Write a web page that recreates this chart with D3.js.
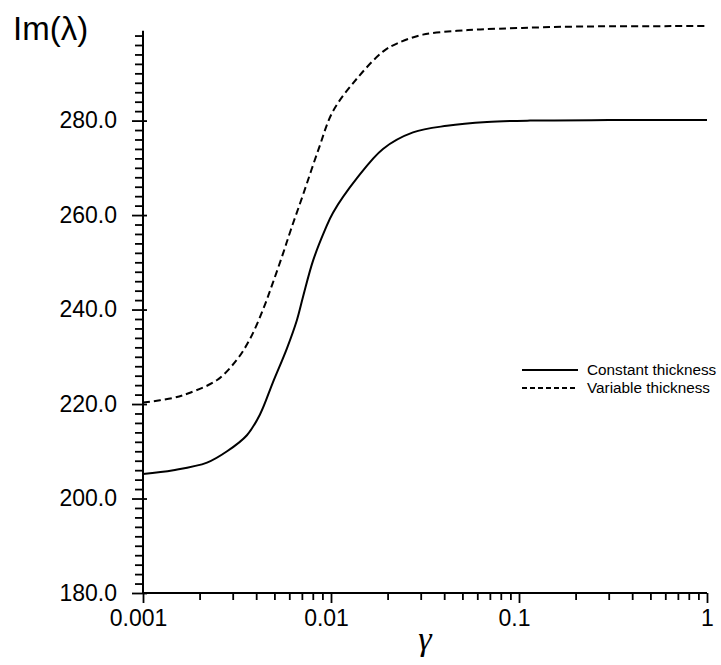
<!DOCTYPE html>
<html>
<head>
<meta charset="utf-8">
<script src="https://cdn.jsdelivr.net/npm/d3@7"></script>
<style>
  body { margin: 0; background: #fff; }
  text { font-family: "Liberation Sans", Arial, sans-serif; fill: #000; }
</style>
</head>
<body>
<div id="chart"></div>
<script>
// data
var gammaConst = [0.001, 0.00145, 0.00219, 0.0028, 0.00357, 0.00419, 0.00491, 0.00583,
    0.00659, 0.0071, 0.00802, 0.0093, 0.01025, 0.01374, 0.0189, 0.0273, 0.0414, 0.0676, 0.1145, 0.3, 1];
var imConst = [205.2, 206.0, 207.6, 210.0, 213.4, 217.8, 224.6, 231.8,
    237.8, 242.7, 250.3, 256.9, 260.5, 267.8, 274.0, 277.5, 278.9, 279.7, 280.0, 280.1, 280.1];
var gammaVar = [0.001, 0.00145, 0.00178, 0.00248, 0.00316, 0.00371, 0.00435, 0.00491, 0.00555, 0.00613,
    0.0071, 0.0086, 0.01025, 0.01374, 0.0189, 0.0224, 0.0308, 0.0468, 0.0621, 0.1, 0.2, 1];
var imVar = [220.3, 221.3, 222.4, 225.1, 229.4, 233.8, 240.0, 245.7, 251.8, 257.0,
    264.3, 274.0, 282.0, 288.9, 294.6, 296.3, 298.2, 299.0, 299.3, 299.6, 299.9, 300.0];
var seriesNames = ["Constant thickness", "Variable thickness"];
var xMajor = [0.001, 0.01, 0.1, 1];
var xLabels = ["0.001", "0.01", "0.1", "1"];
var yMajor = [180, 200, 220, 240, 260, 280];

var width = 721, height = 665;

var svg = d3.select("#chart")
    .append("svg")
    .attr("width", width)
    .attr("height", height);

var x = d3.scaleLog()
    .domain([0.001, 1])
    .range([143, 707]);

var y = d3.scaleLinear()
    .domain([180, 300])
    .range([593, 26.1]);

// minor ticks
var xMinor = [];
[0.001, 0.01, 0.1].forEach(function (d) {
    for (var k = 2; k <= 9; k++) xMinor.push(d * k);
});
var yMinor = d3.range(182, 300, 2).filter(function (d) { return d % 20 != 0; });

// X axis
svg.append("g")
    .attr("transform", "translate(0,593)")
    .call(d3.axisBottom(x).tickValues(xMinor).tickSize(7).tickFormat(""))
    .call(function (g) { g.select(".domain").remove(); });

var xAx = svg.append("g")
    .attr("transform", "translate(0,593)")
    .call(d3.axisBottom(x)
        .tickValues(xMajor)
        .tickSize(10)
        .tickSizeOuter(0)
        .tickPadding(7)
        .tickFormat(function (d, i) { return xLabels[i]; }));
xAx.selectAll("text").style("font-size", "23px")
    .attr("dx", function (d, i) { return i == xMajor.length - 1 ? 0 : -5; });

// Y axis
svg.append("g")
    .attr("transform", "translate(143,0)")
    .call(d3.axisLeft(y).tickValues(yMinor).tickSize(8).tickFormat(""))
    .call(function (g) { g.select(".domain").remove(); });

var yAx = svg.append("g")
    .attr("transform", "translate(143,0)")
    .call(d3.axisLeft(y)
        .tickValues(yMajor)
        .tickSize(11)
        .tickPadding(15)
        .tickFormat(d3.format(".1f")))
    .call(function (g) { g.select(".domain").remove(); });
yAx.selectAll(".tick line").attr("x2", -11).attr("x1", 4);
yAx.selectAll("text").style("font-size", "23px");

svg.append("line")
    .attr("x1", 143).attr("x2", 143)
    .attr("y1", y(180)).attr("y2", y(299))
    .attr("stroke", "#000").attr("stroke-width", 2);
svg.append("line")
    .attr("x1", 143).attr("x2", x(1))
    .attr("y1", 593).attr("y2", 593)
    .attr("stroke", "#000").attr("stroke-width", 2);

svg.selectAll(".tick line").attr("stroke", "#000").attr("stroke-width", 1.8);

// curves
var line = d3.line()
    .x(function (d) { return x(d[0]); })
    .y(function (d) { return y(d[1]); })
    .curve(d3.curveCatmullRom.alpha(0.5));

var constData = gammaConst.map(function (g, i) { return [g, imConst[i]]; });
var varData = gammaVar.map(function (g, i) { return [g, imVar[i]]; });

svg.append("path")
    .attr("d", line(constData))
    .style("fill", "none")
    .style("stroke", "#000")
    .style("stroke-width", 2);

svg.append("path")
    .attr("d", line(varData))
    .style("fill", "none")
    .style("stroke", "#000")
    .style("stroke-width", 2)
    .style("stroke-dasharray", "7,4");

// legend
var legend = svg.append("g");
seriesNames.forEach(function (name, i) {
    var ly = 370 + i * 18;
    legend.append("line")
        .attr("x1", 522).attr("x2", 578)
        .attr("y1", ly).attr("y2", ly)
        .attr("stroke", "#000")
        .attr("stroke-width", i == 0 ? 2 : 1.8)
        .attr("stroke-dasharray", i == 0 ? null : "5,3");
    legend.append("text")
        .attr("x", 587)
        .attr("y", ly + 5)
        .style("font-size", "15.3px")
        .text(name);
});

// axis titles
svg.append("text")
    .attr("x", 13)
    .attr("y", 40)
    .style("font-size", "33px")
    .text("Im(λ)");

svg.append("text")
    .attr("x", 425)
    .attr("y", 650)
    .attr("text-anchor", "middle")
    .style("font-family", "'Liberation Serif', serif")
    .style("font-style", "italic")
    .style("font-size", "34px")
    .text("γ");
</script>
</body>
</html>
